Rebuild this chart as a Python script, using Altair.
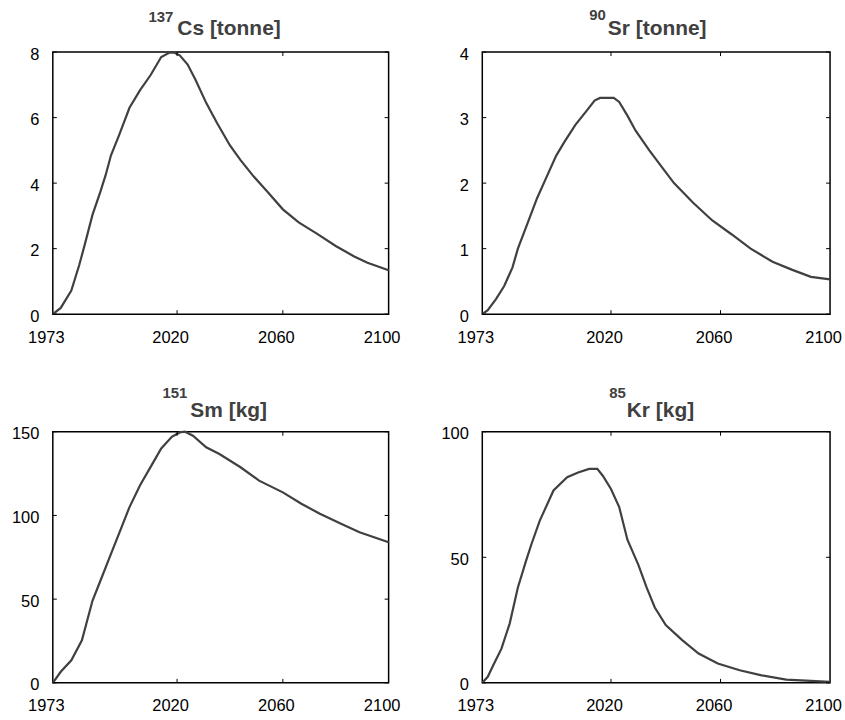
import altair as alt
import pandas as pd

# ---- data ----
x_ticks = [1973, 2020, 2060, 2100]
x_inner_ticks = [2020, 2060]

cs_years = [1973, 1976, 1980, 1983, 1985, 1988, 1991, 1993, 1995, 1998, 2002, 2006, 2010, 2014,
            2017, 2019, 2021, 2024, 2027, 2031, 2035, 2040, 2044, 2049, 2054, 2060, 2066, 2073,
            2080, 2087, 2092, 2100]
cs_values = [0, 0.19, 0.72, 1.5, 2.1, 3.03, 3.74, 4.25, 4.85, 5.45, 6.3, 6.84, 7.3, 7.85,
             7.98, 7.98, 7.9, 7.62, 7.15, 6.45, 5.85, 5.15, 4.7, 4.2, 3.75, 3.2, 2.8, 2.45,
             2.08, 1.76, 1.57, 1.34]

sr_years = [1973, 1975, 1978, 1981, 1984, 1986, 1990, 1993, 1996, 2000, 2003, 2007, 2011, 2014,
            2016, 2021, 2023, 2026, 2029, 2034, 2039, 2043, 2050, 2057, 2064, 2071, 2079, 2086,
            2093, 2100]
sr_values = [0, 0.06, 0.23, 0.43, 0.71, 1.0, 1.44, 1.77, 2.05, 2.42, 2.63, 2.89, 3.1, 3.26,
             3.3, 3.3, 3.24, 3.03, 2.8, 2.5, 2.22, 2.0, 1.7, 1.43, 1.22, 1.0, 0.8, 0.68,
             0.57, 0.53]

sm_years = [1973, 1976, 1980, 1984, 1988, 1991, 1995, 1998, 2002, 2006, 2010, 2014, 2018, 2021,
            2023, 2026, 2031, 2036, 2044, 2051, 2060, 2067, 2074, 2082, 2089, 2100]
sm_values = [0, 6.6, 13.5, 25.4, 49, 61, 77, 89, 105, 118, 129, 140, 147, 149.6,
             150, 147.6, 140.7, 136.7, 128.8, 120.8, 113.8, 107, 101, 95, 90, 84]

kr_years = [1973, 1975, 1977, 1980, 1983, 1986, 1989, 1991, 1994, 1999, 2004, 2008, 2012, 2015,
            2017, 2020, 2023, 2026, 2030, 2033, 2036, 2040, 2046, 2052, 2059, 2067, 2075, 2084,
            2093, 2100]
kr_values = [0, 2.4, 7, 13.6, 23.6, 38, 48.7, 55.4, 64.6, 76.6, 81.9, 83.8, 85.2, 85.2,
             82.5, 77.2, 70, 57, 47, 38, 30, 23, 17, 11.7, 7.7, 5, 3, 1.3,
             0.8, 0.4]

cs_yticks = [0, 2, 4, 6, 8]
sr_yticks = [0, 1, 2, 3, 4]
sm_yticks = [0, 50, 100, 150]
kr_yticks = [0, 50, 100]

titles_sup = ["137", "90", "151", "85"]
titles_main = ["Cs [tonne]", "Sr [tonne]", "Sm [kg]", "Kr [kg]"]

FONT = "Liberation Sans"
LINE_COLOR = "#404040"
TITLE_COLOR = "#404040"
TICK_LEN = 4
LABEL_SIZE = 16.5


def panel(years, values, ymax, yticks, w, h, sup, main, sup_x, main_x, sup_y, main_y):
    df = pd.DataFrame({"year": years, "value": values})
    xs = alt.Scale(domain=[1973, 2100], nice=False, zero=False)
    ys = alt.Scale(domain=[0, ymax], nice=False, zero=False)
    xaxis = alt.Axis(values=x_ticks, format="d", title=None, ticks=False, domain=False,
                     grid=False, labelOffset=-7, labelPadding=15, labelFontSize=LABEL_SIZE,
                     labelColor="#000000", labelFont=FONT, labelFlush=False)
    yaxis = alt.Axis(values=yticks, format="d", title=None, ticks=False, domain=False,
                     grid=False, labelPadding=14, labelOffset=2, labelFontSize=LABEL_SIZE,
                     labelColor="#000000", labelFont=FONT, labelFlush=False)

    line = alt.Chart(df).mark_line(color=LINE_COLOR, strokeWidth=2.2).encode(
        x=alt.X("year:Q", scale=xs, axis=xaxis),
        y=alt.Y("value:Q", scale=ys, axis=yaxis),
    )

    ydf = pd.DataFrame({"value": yticks})
    xdf = pd.DataFrame({"year": x_inner_ticks})
    yl = alt.Chart(ydf).mark_rule(color="black", strokeWidth=1).encode(
        y=alt.Y("value:Q", scale=ys, axis=yaxis), x=alt.value(0), x2=alt.value(TICK_LEN))
    yr = alt.Chart(ydf).mark_rule(color="black", strokeWidth=1).encode(
        y=alt.Y("value:Q", scale=ys, axis=yaxis), x=alt.value(w - TICK_LEN), x2=alt.value(w))
    xb = alt.Chart(xdf).mark_rule(color="black", strokeWidth=1).encode(
        x=alt.X("year:Q", scale=xs, axis=xaxis), y=alt.value(h - TICK_LEN), y2=alt.value(h))
    xt = alt.Chart(xdf).mark_rule(color="black", strokeWidth=1).encode(
        x=alt.X("year:Q", scale=xs, axis=xaxis), y=alt.value(0), y2=alt.value(TICK_LEN))

    t_sup = alt.Chart(pd.DataFrame({"t": [sup]})).mark_text(
        align="right", baseline="alphabetic", fontSize=15, fontWeight="bold",
        color=TITLE_COLOR, font=FONT).encode(text="t:N", x=alt.value(sup_x), y=alt.value(sup_y))
    t_main = alt.Chart(pd.DataFrame({"t": [main]})).mark_text(
        align="left", baseline="alphabetic", fontSize=21, fontWeight="bold",
        color=TITLE_COLOR, font=FONT).encode(text="t:N", x=alt.value(main_x), y=alt.value(main_y))

    return alt.layer(line, yl, yr, xb, xt, t_sup, t_main).properties(width=w, height=h)


p1 = panel(cs_years, cs_values, 8, cs_yticks, 337, 263, titles_sup[0], titles_main[0], 121, 125, -30, -17)
p2 = panel(sr_years, sr_values, 4, sr_yticks, 349, 263, titles_sup[1], titles_main[1], 124, 126, -32, -17)
p3 = panel(sm_years, sm_values, 150, sm_yticks, 337, 252, titles_sup[2], titles_main[2], 135, 138, -34, -15)
p4 = panel(kr_years, kr_values, 100, kr_yticks, 349, 252, titles_sup[3], titles_main[3], 144, 145, -34, -15)

chart = alt.concat(
    p1, p2, p3, p4, columns=2,
    spacing=alt.RowColnumber(row=118, column=94), bounds="flush"
).properties(
    padding={"left": 10, "top": 6, "right": 2, "bottom": 5},
    background="white",
).configure_view(
    stroke="black", strokeWidth=1.5
)

chart.save("out.html", embed_options={"renderer": "svg", "actions": False})
